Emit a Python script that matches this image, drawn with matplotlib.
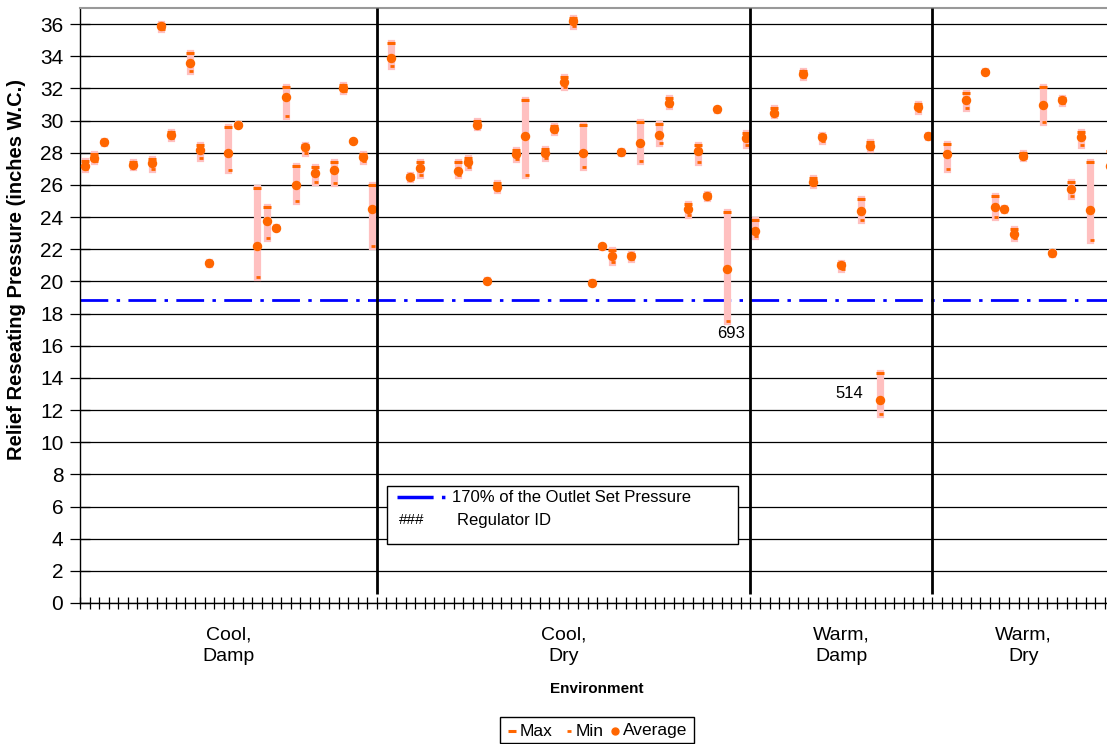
import numpy as np
import matplotlib
matplotlib.use("Agg")
import matplotlib.pyplot as plt
from matplotlib.lines import Line2D
from matplotlib.patches import Rectangle
import matplotlib.transforms as mtransforms

plt.rcParams['font.family'] = ['Liberation Sans', 'DejaVu Sans']
plt.rcParams['lines.scale_dashes'] = False

nan = np.nan
# ---- data (one entry per regulator slot, NaN = empty slot) ----
groups = ["Cool,\nDamp", "Cool,\nDry", "Warm,\nDamp", "Warm,\nDry"]
group_sizes = [31, 39, 19, 19]

max_vals = [
    27.5, 27.9, 28.7, nan, nan, 27.4, nan, 27.6, 36.0, 29.3,
    nan, 34.2, 28.5, 21.2, nan, 29.6, 29.8, nan, 25.8, 24.6,
    23.4, 32.1, 27.2, 28.5, 27.1, nan, 27.4, 32.2, 28.75, 27.9,
    26.0,
    nan, 34.8, nan, 26.6, 27.4, nan, nan, nan, 27.4, 27.7,
    30.0, 20.1, 26.1, nan, 28.2, 31.25, nan, 28.25, 29.65, 32.7,
    36.4, 29.7, 19.95, 22.2, 21.95, 28.1, 21.7, 29.9, nan, 29.8,
    31.4, nan, 24.8, 28.5, 25.45, 30.72, 24.3, nan, 29.2,
    23.8, nan, 30.8, nan, nan, 33.1, 26.4, 29.1, nan, 21.15,
    nan, 25.1, 28.65, 14.3, nan, nan, nan, 31.0, 29.1,
    nan, 28.55, nan, 31.7, nan, 33.1, 25.3, 24.55, 23.25, 28.0,
    nan, 32.1, 21.8, 31.4, 26.2, 29.3, 27.4, nan, 28.1,
]
min_vals = [
    27.0, 27.5, 28.6, nan, nan, 27.1, nan, 27.0, 35.7, 28.9,
    nan, 33.1, 27.7, 21.1, nan, 26.9, 29.7, nan, 20.3, 22.7,
    23.3, 30.3, 25.0, 28.0, 26.2, nan, 26.1, 31.85, 28.7, 27.5,
    22.2,
    nan, 33.4, nan, 26.35, 26.6, nan, nan, nan, 26.6, 27.1,
    29.6, 20.0, 25.7, nan, 27.6, 26.6, nan, 27.7, 29.3, 32.1,
    35.9, 27.1, 19.9, 22.15, 21.2, 28.0, 21.4, 27.5, nan, 28.6,
    30.9, nan, 24.1, 27.4, 25.2, 30.68, 17.55, nan, 28.5,
    22.8, nan, 30.35, nan, nan, 32.7, 26.0, 28.75, nan, 20.8,
    nan, 23.8, 28.25, 11.75, nan, nan, nan, 30.6, 28.95,
    nan, 27.0, nan, 30.8, nan, 33.0, 24.0, 24.45, 22.7, 27.7,
    nan, 29.9, 21.7, 31.1, 25.3, 28.5, 22.6, nan, 26.5,
]
avg_vals = [
    27.2, 27.7, 28.65, nan, nan, 27.25, nan, 27.35, 35.85, 29.1,
    nan, 33.6, 28.15, 21.15, nan, 28.0, 29.75, nan, 22.2, 23.75,
    23.35, 31.45, 26.0, 28.35, 26.75, nan, 26.9, 32.0, 28.73, 27.75,
    24.5,
    nan, 33.9, nan, 26.5, 27.05, nan, nan, nan, 26.85, 27.45,
    29.75, 20.05, 25.9, nan, 27.9, 29.05, nan, 28.0, 29.5, 32.4,
    36.2, 28.0, 19.92, 22.17, 21.6, 28.05, 21.55, 28.6, nan, 29.1,
    31.1, nan, 24.5, 28.1, 25.3, 30.7, 20.75, nan, 28.9,
    23.15, nan, 30.5, nan, nan, 32.9, 26.2, 28.95, nan, 21.0,
    nan, 24.4, 28.4, 12.6, nan, nan, nan, 30.85, 29.02,
    nan, 27.95, nan, 31.25, nan, 33.05, 24.65, 24.5, 22.95, 27.8,
    nan, 30.95, 21.75, 31.25, 25.75, 29.0, 24.45, nan, 27.2,
]
outlet_170 = 18.85
regulator_labels = [(67, "693", "min"), (83, "514", "avg")]
y_ticks = list(range(0, 37, 2))

# ---- figure ----
W, H = 1107, 744
fig = plt.figure(figsize=(W / 100, H / 100), dpi=100)
n = len(avg_vals)
px = 9.578
ax = fig.add_axes([80 / W, (H - 603) / H, n * px / W, (603 - 8) / H])
x = np.arange(n)
mx = np.array(max_vals, float)
mn = np.array(min_vals, float)
av = np.array(avg_vals, float)

ok = ~np.isnan(mx)
ax.vlines(x[ok], mn[ok], mx[ok], color='#FFC0C0', lw=5.2, zorder=3, capstyle='projecting')
ax.plot(x, mx, ls='none', marker='_', ms=6, mew=2.2, color='#FF6600', zorder=4, clip_on=False)
ax.plot(x + 0.12, mn, ls='none', marker='_', ms=3.5, mew=2.0, color='#FF6600', zorder=4, clip_on=False)
ax.plot(x, av, ls='none', marker='o', ms=5.8, color='#FF6600', mec='#FF6600', zorder=5, clip_on=False)

ax.axhline(outlet_170, color='#0000FF', lw=2.0, dashes=(20, 6, 2.5, 6), zorder=2)

ax.set_xlim(-0.5, n - 0.5)
ax.set_ylim(0, 37)
ax.set_yticks(y_ticks)
ax.set_yticklabels([str(v) for v in y_ticks], fontsize=15)
ax.yaxis.grid(True, color='black', lw=0.9)
ax.set_axisbelow(True)
ax.set_xticks(np.arange(-0.5, n, 1))
ax.set_xticklabels([])
ax.tick_params(axis='x', direction='inout', length=9, width=0.9, color='black')
ax.tick_params(axis='y', direction='inout', length=14, width=0.9, color='black', pad=5)
for s in ['left', 'bottom']:
    ax.spines[s].set_color('black')
    ax.spines[s].set_linewidth(1.0)
ax.spines['top'].set_color('#999999')
ax.spines['top'].set_linewidth(1.5)
ax.spines['right'].set_visible(False)

# group separators and labels
bounds = np.cumsum(group_sizes)
for b in bounds[:-1]:
    ax.vlines(b - 0.5, 0.55, 37, color='black', lw=2.0, zorder=6)
trans = mtransforms.blended_transform_factory(ax.transData, ax.transAxes)
starts = np.concatenate([[0], bounds[:-1]])
for g, s, e in zip(groups, starts, bounds):
    ax.text((s + e - 1) / 2, -0.072, g, transform=trans, ha='center', va='center',
            fontsize=14, linespacing=1.3)

# regulator ID annotations
for idx, lab, ref in regulator_labels:
    if ref == "min":
        ax.annotate(lab, xy=(idx, mn[idx]), xytext=(3.1, -9.5), textcoords='offset points',
                    ha='center', va='center', fontsize=12, zorder=7)
    else:
        ax.annotate(lab, xy=(idx, av[idx]), xytext=(-21.6, 5.3), textcoords='offset points',
                    ha='center', va='center', fontsize=12, zorder=7)

def fx(p):
    return p / W

def fy(p):
    return (H - p) / H

fig.text(fx(17), fy(270), "Relief Reseating Pressure (inches W.C.)", rotation=90,
         ha='center', va='center', fontsize=14.5, fontweight='bold')
fig.text(fx(597), fy(689), "Environment", ha='center', va='center',
         fontsize=11, fontweight='bold')

# inner legend box
fig.patches.append(Rectangle((fx(387), fy(544)), fx(738) - fx(387), fy(486) - fy(544),
                             transform=fig.transFigure, facecolor='white', edgecolor='black',
                             lw=1.0, zorder=10))
fig.lines.append(Line2D([fx(397), fx(445)], [fy(497), fy(497)], transform=fig.transFigure,
                        color='#0000FF', lw=2.5, dashes=(26, 6, 2.5, 6), zorder=11))
fig.text(fx(452), fy(497), "170% of the Outlet Set Pressure", fontsize=12, va='center',
         ha='left', zorder=11)
fig.text(fx(399), fy(520), "###", fontsize=11, va='center', ha='left', zorder=11)
fig.text(fx(457), fy(520), "Regulator ID", fontsize=12, va='center', ha='left', zorder=11)

# bottom legend
fig.patches.append(Rectangle((fx(500), fy(743)), fx(694) - fx(500), fy(717) - fy(743),
                             transform=fig.transFigure, facecolor='white', edgecolor='black',
                             lw=1.0, zorder=10))
ly = fy(731)
fig.lines.append(Line2D([fx(511.5)], [ly], transform=fig.transFigure, ls='none', marker='_',
                        ms=6, mew=2.2, color='#FF6600', zorder=11))
fig.text(fx(520), ly, "Max", fontsize=12.5, va='center', ha='left', zorder=11)
fig.lines.append(Line2D([fx(568.5)], [ly], transform=fig.transFigure, ls='none', marker='_',
                        ms=3.5, mew=2.0, color='#FF6600', zorder=11))
fig.text(fx(576), ly, "Min", fontsize=12.5, va='center', ha='left', zorder=11)
fig.lines.append(Line2D([fx(615)], [ly], transform=fig.transFigure, ls='none', marker='o',
                        ms=5, color='#FF6600', zorder=11))
fig.text(fx(623), ly, "Average", fontsize=12.5, va='center', ha='left', zorder=11)

fig.savefig("out.png", dpi=100)
